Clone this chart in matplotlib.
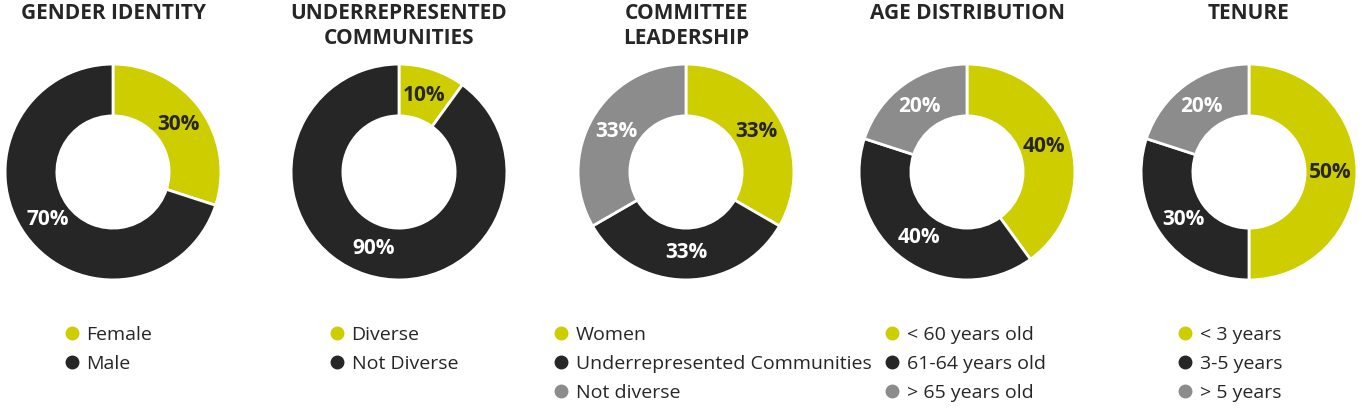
import matplotlib.pyplot as plt
from matplotlib.lines import Line2D

plt.rcParams['font.family'] = ['Open Sans', 'DejaVu Sans']

W, H = 1362, 408

titles = ["GENDER IDENTITY", "UNDERREPRESENTED\nCOMMUNITIES", "COMMITTEE\nLEADERSHIP",
          "AGE DISTRIBUTION", "TENURE"]
gender_vals = [30, 70]
gender_labels = ["Female", "Male"]
community_vals = [10, 90]
community_labels = ["Diverse", "Not Diverse"]
committee_vals = [33, 33, 33]
committee_labels = ["Women", "Underrepresented Communities", "Not diverse"]
age_vals = [40, 40, 20]
age_labels = ["< 60 years old", "61-64 years old", "> 65 years old"]
tenure_vals = [50, 30, 20]
tenure_labels = ["< 3 years", "3-5 years", "> 5 years"]

all_vals = [gender_vals, community_vals, committee_vals, age_vals, tenure_vals]
all_labels = [gender_labels, community_labels, committee_labels, age_labels, tenure_labels]

colors = ["#cdcd00", "#262626", "#8c8c8c"]
pct_colors = ["#262626", "white", "white"]

# donut centres / legend marker x in pixels
centers_x = [113, 399, 686, 967, 1249]
center_y = 172
R = 109
legend_x = [72, 337, 561, 892, 1185]

fig = plt.figure(figsize=(W / 100, H / 100), dpi=100)

for i in range(5):
    cx = centers_x[i]
    ax = fig.add_axes([(cx - R) / W, 1 - (center_y + R) / H, 2 * R / W, 2 * R / H])
    vals = all_vals[i]
    n = len(vals)
    wedges, texts, autotexts = ax.pie(vals, colors=colors[:n], startangle=90, counterclock=False,
                                      radius=1, autopct='%.0f%%', pctdistance=0.75,
                                      wedgeprops=dict(width=0.48, edgecolor='white', linewidth=2))
    for k, t in enumerate(autotexts):
        t.set_color(pct_colors[k])
        t.set_fontsize(15)
        t.set_fontweight('bold')
    ax.set_xlim(-1.01, 1.01)
    ax.set_ylim(-1.01, 1.01)
    ax.axis('off')

    fig.text(cx / W, 1 - 3 / H, titles[i], ha='center', va='top', fontsize=15,
             fontweight='bold', color='#262626', linespacing=1.22)

    handles = [Line2D([], [], linestyle='none', marker='o', markersize=9,
                      markerfacecolor=colors[k], markeredgecolor=colors[k]) for k in range(n)]
    fs = 14
    hl = 0.8
    left = legend_x[i] - hl * fs * 100 / 72 / 2
    fig.legend(handles, all_labels[i], loc='upper left',
               bbox_to_anchor=(left / W, 1 - 326 / H), frameon=False, fontsize=fs,
               handlelength=hl, handletextpad=0.35, labelspacing=0.56, borderpad=0,
               borderaxespad=0, labelcolor='#262626')

fig.savefig("out.png", dpi=100)
